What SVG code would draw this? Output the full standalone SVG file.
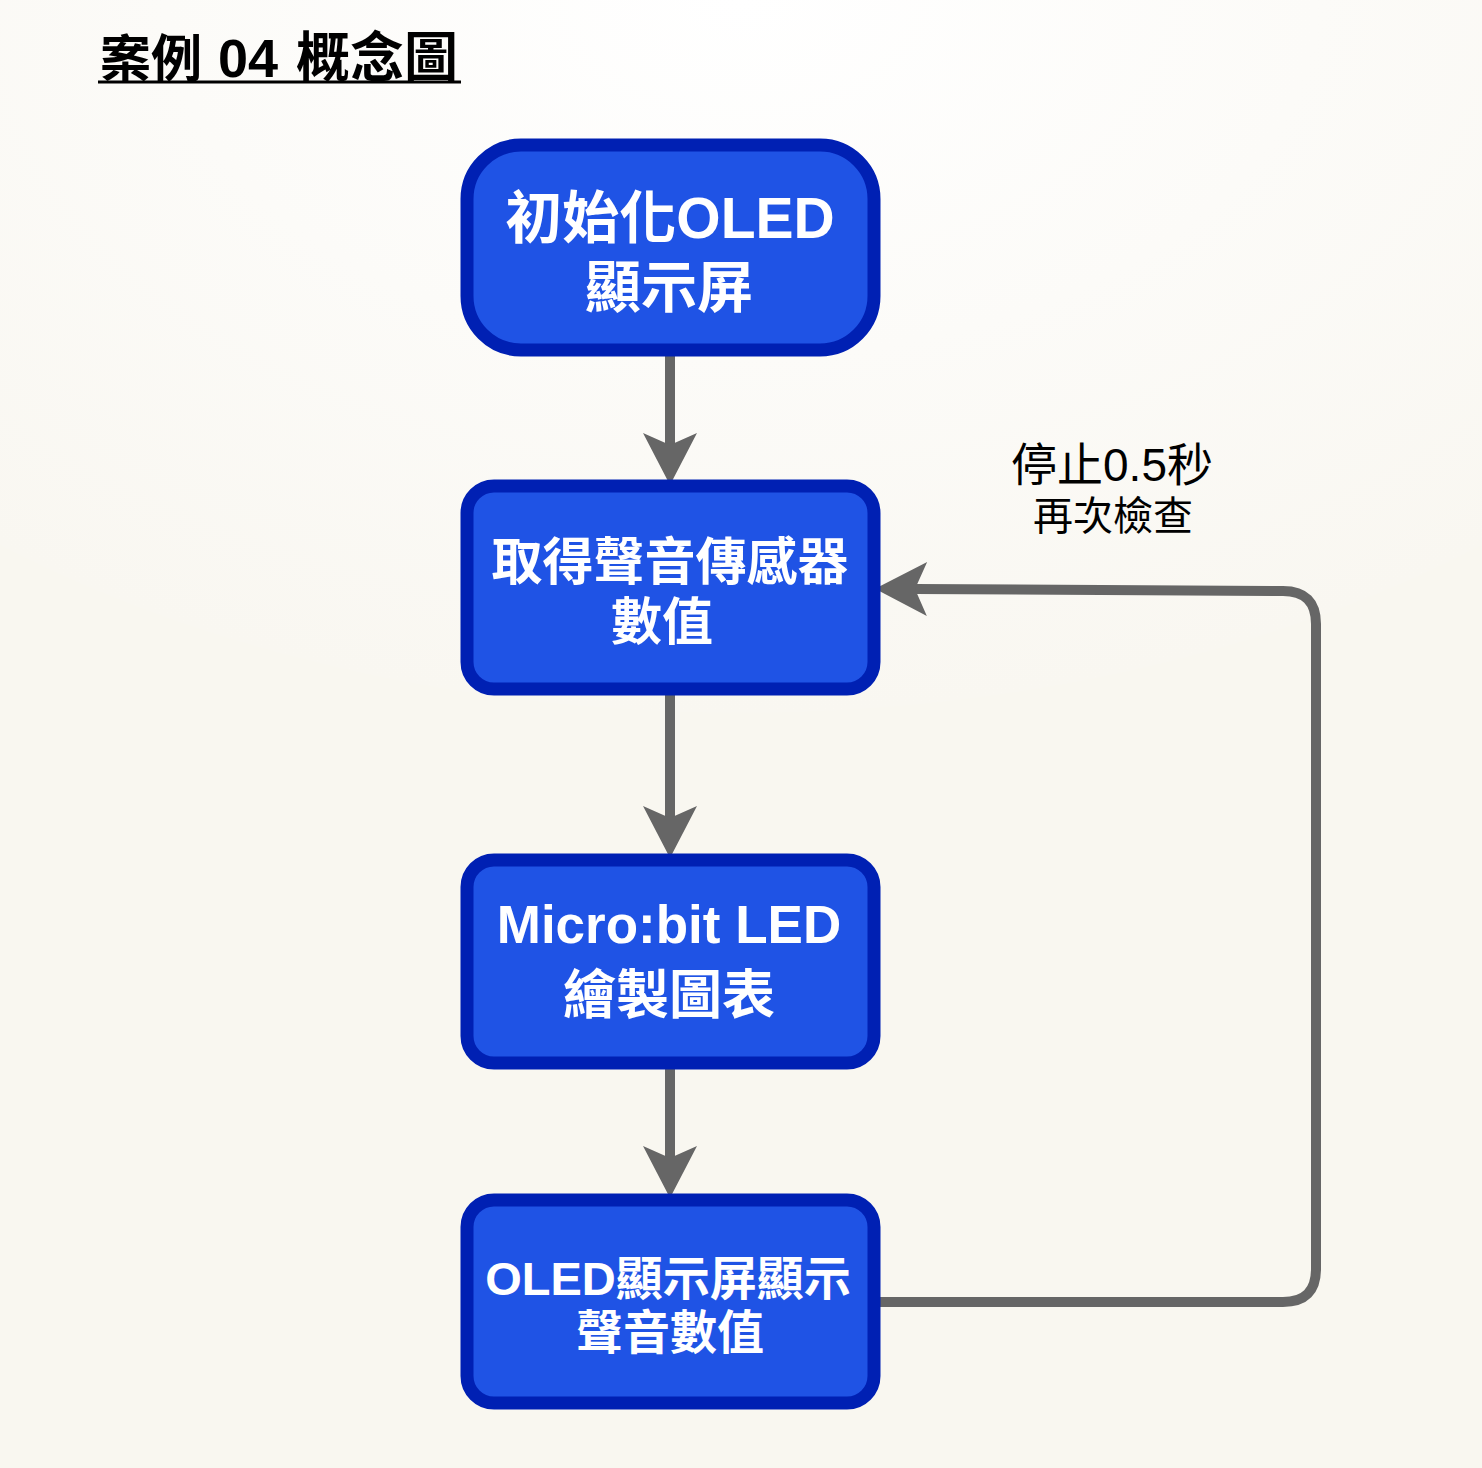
<svg xmlns="http://www.w3.org/2000/svg" width="1482" height="1468" viewBox="0 0 1482 1468">
  <defs>
    <radialGradient id="bg" cx="741" cy="0" r="1150" gradientUnits="userSpaceOnUse" gradientTransform="translate(741 0) scale(1 0.62) translate(-741 0)">
      <stop offset="0" stop-color="#ffffff"/>
      <stop offset="0.999" stop-color="#f9f7f1"/>
      <stop offset="1" stop-color="#f9f7f0"/>
    </radialGradient>
    <marker id="arrow" viewBox="0 0 52 54" refX="12" refY="27" markerWidth="52" markerHeight="54" markerUnits="userSpaceOnUse" orient="auto" overflow="visible">
      <path d="M0,0 L52,27 L0,54 L12,27 Z" fill="#666666"/>
    </marker>
    <style>
      .node { fill: #1f53e5; stroke: #0020b3; stroke-width: 13; }
      .ntext { font-family: "Liberation Sans", "Noto Sans CJK TC", sans-serif; font-weight: bold; fill: #ffffff; text-anchor: middle; }
      .edge { fill: none; stroke: #666666; stroke-width: 10; marker-end: url(#arrow); }
      .label { font-family: "Liberation Sans", "Noto Sans CJK TC", sans-serif; fill: #000000; text-anchor: middle; }
      .title { font-family: "Liberation Sans", "Noto Sans CJK TC", sans-serif; font-weight: bold; fill: #000000; font-size: 51px; }
    </style>
  </defs>
  <rect x="0" y="0" width="1482" height="1468" fill="url(#bg)"/>

  <g id="title">
    <text class="title" y="77"><tspan x="100">案例</tspan><tspan x="218" font-size="54">04</tspan><tspan x="296" font-size="54">概念圖</tspan></text>
    <line x1="98" y1="82" x2="461" y2="82" stroke="#000000" stroke-width="3"/>
  </g>

  <g id="connectors">
    <path class="edge" d="M670,350 L670,445"/>
    <path class="edge" d="M670,690 L670,818"/>
    <path class="edge" d="M670,1063 L670,1158"/>
    <path class="edge" d="M874,1302 L1283,1302 Q1316,1302 1316,1269 L1316,624 Q1316,591 1283,591 L915,589"/>
  </g>

  <g id="label-loop">
    <text class="label" x="1112" y="481" font-size="46">停止0.5秒</text>
    <text class="label" x="1113" y="530" font-size="40">再次檢查</text>
  </g>

  <g id="node1">
    <rect class="node" x="467" y="145" width="407" height="205" rx="54" ry="54"/>
    <text class="ntext" x="670" y="238" font-size="57">初始化OLED</text>
    <text class="ntext" x="669" y="307" font-size="56">顯示屏</text>
  </g>

  <g id="node2">
    <rect class="node" x="467" y="486" width="407" height="203" rx="27" ry="27"/>
    <text class="ntext" x="670" y="580" font-size="51">取得聲音傳感器</text>
    <text class="ntext" x="662" y="640" font-size="51">數值</text>
  </g>

  <g id="node3">
    <rect class="node" x="467" y="860" width="407" height="203" rx="27" ry="27"/>
    <text class="ntext" x="669" y="943" font-size="53">Micro:bit LED</text>
    <text class="ntext" x="669" y="1014" font-size="53">繪製圖表</text>
  </g>

  <g id="node4">
    <rect class="node" x="467" y="1200" width="407" height="203" rx="27" ry="27"/>
    <text class="ntext" x="668" y="1295" font-size="47">OLED顯示屏顯示</text>
    <text class="ntext" x="670" y="1349" font-size="47">聲音數值</text>
  </g>
</svg>
